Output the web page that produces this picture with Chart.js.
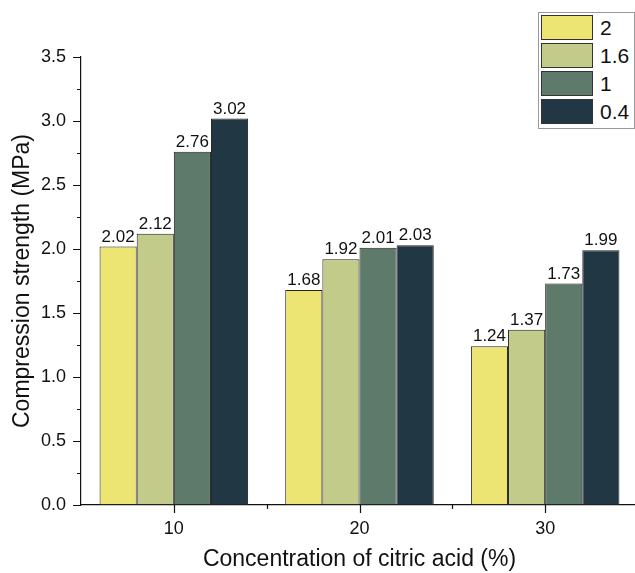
<!DOCTYPE html>
<html>
<head>
<meta charset="utf-8">
<script src="https://cdn.jsdelivr.net/npm/chart.js@4"></script>
<style>
  html, body { margin: 0; padding: 0; background: #fff; overflow: hidden; width: 635px; height: 573px; }
  #wrap { position: relative; width: 635px; height: 573px; overflow: hidden; }
  #chart { position: absolute; left: 0; top: 0; }
  #legend {
    position: absolute; left: 538px; top: 12px; width: 93px;
    border: 1px solid #999; background: #fff; padding: 1px 0 1px 2px;
    font-family: "Liberation Sans", Arial, sans-serif; font-size: 21px; color: #111;
  }
  .lg-row { display: flex; align-items: center; height: 25px; margin: 1px 0 3px 0; }
  .lg-box { width: 50px; height: 23px; border: 1px solid #333; margin-right: 7px; }
</style>
</head>
<body>
<div id="wrap">
  <canvas id="chart" width="660" height="573"></canvas>
  <div id="legend"></div>
</div>
<script>
// ── Data ────────────────────────────────────────────────────
const CATEGORIES  = ['10', '20', '30'];
const SERIES      = ['2', '1.6', '1', '0.4'];
const VALUES_2    = [2.02, 1.68, 1.24];
const VALUES_1_6  = [2.12, 1.92, 1.37];
const VALUES_1    = [2.76, 2.01, 1.73];
const VALUES_0_4  = [3.02, 2.03, 1.99];
const Y_TICKS     = [0, 0.5, 1.0, 1.5, 2.0, 2.5, 3.0, 3.5];
const COLORS      = ['#ece473', '#c3cb8b', '#5d7a6a', '#213744'];

const FONT = '"Liberation Sans", Arial, sans-serif';
const INK  = '#111';

const datasets = [VALUES_2, VALUES_1_6, VALUES_1, VALUES_0_4].map((data, i) => ({
    label:              SERIES[i],
    data,
    backgroundColor:    COLORS[i],
    borderColor:        '#222',
    borderWidth:        1,
    borderSkipped:      false,
    categoryPercentage: 0.8,
    barPercentage:      1.0,
}));

// ── Value labels above bars ────────────────────────────────
const valueLabels = {
    id: 'valueLabels',
    afterDatasetsDraw(chart) {
        const ctx = chart.ctx;
        ctx.save();
        ctx.font = `17px ${FONT}`;
        ctx.fillStyle = INK;
        ctx.textAlign = 'center';
        ctx.textBaseline = 'bottom';
        chart.data.datasets.forEach((ds, di) => {
            chart.getDatasetMeta(di).data.forEach((bar, i) => {
                ctx.fillText(ds.data[i].toFixed(2), bar.x, bar.y - 1);
            });
        });
        ctx.restore();
    },
};

// ── Outward major/minor tick marks ─────────────────────────
const tickMarks = {
    id: 'tickMarks',
    afterDraw(chart) {
        const { ctx, scales: { x, y } } = chart;
        ctx.save();
        ctx.strokeStyle = INK;
        ctx.lineWidth = 1.2;
        ctx.beginPath();
        for (let v = 0; v <= 3.5001; v += 0.25) {
            const py  = Math.round(y.getPixelForValue(v)) + 0.5;
            const len = Math.abs(v * 2 - Math.round(v * 2)) < 1e-6 ? 8 : 4;
            ctx.moveTo(x.left, py);
            ctx.lineTo(x.left - len, py);
        }
        CATEGORIES.forEach((_, i) => {
            const px = Math.round(x.getPixelForValue(i)) + 0.5;
            ctx.moveTo(px, y.bottom);
            ctx.lineTo(px, y.bottom + 8);
            if (i > 0) {
                const mx = Math.round(x.getPixelForValue(i - 0.5)) + 0.5;
                ctx.moveTo(mx, y.bottom);
                ctx.lineTo(mx, y.bottom + 4);
            }
        });
        ctx.stroke();
        ctx.restore();
    },
};

new Chart(document.getElementById('chart').getContext('2d'), {
    type: 'bar',
    data: { labels: CATEGORIES, datasets },
    options: {
        responsive: false,
        animation:  false,
        layout:     { padding: { left: 0, right: 22, top: 57, bottom: 0 } },
        plugins:    { legend: { display: false }, tooltip: { enabled: false } },
        scales: {
            x: {
                grid:   { display: false, drawTicks: false },
                border: { display: true, color: INK, width: 1.2 },
                ticks:  { color: INK, font: { family: FONT, size: 18 }, padding: 13 },
                title:  {
                    display: true, text: 'Concentration of citric acid (%)',
                    color: INK, font: { family: FONT, size: 23 }, padding: { top: 0, bottom: 0 },
                },
                afterFit: s => { s.height = 68; },
            },
            y: {
                min: 0, max: 3.5,
                grid:   { display: false, drawTicks: false },
                border: { display: true, color: INK, width: 1.2 },
                afterBuildTicks: s => { s.ticks = Y_TICKS.map(v => ({ value: v })); },
                ticks:  {
                    color: INK, font: { family: FONT, size: 18 }, padding: 15,
                    callback: v => Number(v).toFixed(1),
                },
                title:  {
                    display: true, text: 'Compression strength (MPa)',
                    color: INK, font: { family: FONT, size: 23 }, padding: { top: 9, bottom: 0 },
                },
                afterFit: s => { s.width = 81; },
            },
        },
    },
    plugins: [valueLabels, tickMarks],
});

// ── Legend ──────────────────────────────────────────────────
const legend = document.getElementById('legend');
SERIES.forEach((name, i) => {
    const row = document.createElement('div');
    row.className = 'lg-row';
    row.innerHTML = `<div class="lg-box" style="background:${COLORS[i]}"></div><span>${name}</span>`;
    legend.appendChild(row);
});
</script>
</body>
</html>
